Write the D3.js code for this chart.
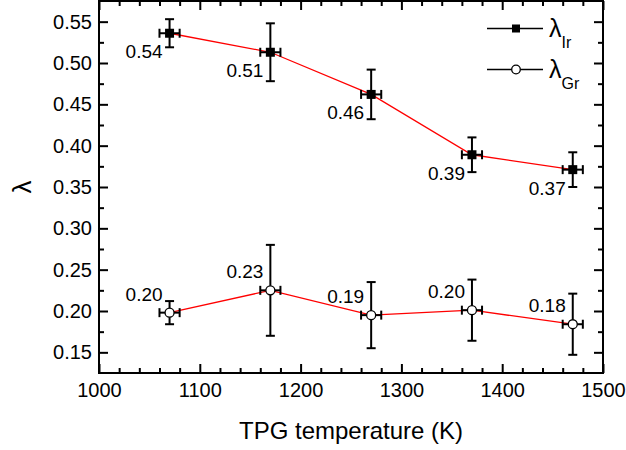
<!DOCTYPE html>
<html><head><meta charset="utf-8">
<script src="https://cdn.jsdelivr.net/npm/d3@7/dist/d3.min.js"></script>
<style>
body{margin:0;background:#fff;}
svg{display:block;font-family:"Liberation Sans",Arial,sans-serif;}
</style></head>
<body>
<svg id="chart" width="626" height="450"></svg>
<script>
const temps = [1070, 1170, 1270, 1370, 1470];
const tempErr = [10, 10, 10, 10, 10];
const lambdaIr = [0.536, 0.513, 0.462, 0.389, 0.371];
const lambdaIrErr = [0.017, 0.035, 0.030, 0.021, 0.021];
const lambdaGr = [0.198, 0.225, 0.195, 0.201, 0.184];
const lambdaGrErr = [0.014, 0.055, 0.040, 0.037, 0.037];
const labelsIr = ["0.54", "0.51", "0.46", "0.39", "0.37"];
const labelsGr = ["0.20", "0.23", "0.19", "0.20", "0.18"];
const xTicks = [1000, 1100, 1200, 1300, 1400, 1500];
const yTicks = [0.15, 0.20, 0.25, 0.30, 0.35, 0.40, 0.45, 0.50, 0.55];
const seriesNames = ["Ir", "Gr"];

const svg = d3.select("#chart");
const L = 99, R = 603, T = 1, B = 373;
const x = d3.scaleLinear().domain([1000, 1500]).range([L, R]);
const y = d3.scaleLinear().domain([0.125, 0.575]).range([B, T]);

const xMinor = d3.range(1020, 1500, 20).filter(v => v % 100 !== 0);
const yMinor = d3.range(0.175, 0.575, 0.05);

function styleAxis(g) {
  g.select(".domain").remove();
  g.selectAll("line").attr("stroke", "#000").attr("stroke-width", 2);
  g.selectAll("text").attr("fill", "#000").attr("font-size", 20)
    .attr("font-family", '"Liberation Sans",Arial,sans-serif');
}

// bottom
svg.append("g").attr("transform", `translate(0,${B})`)
  .call(d3.axisBottom(x).tickValues(xTicks).tickSize(-9).tickSizeOuter(0).tickPadding(10).tickFormat(d3.format("d")))
  .call(styleAxis);
svg.append("g").attr("transform", `translate(0,${B})`)
  .call(d3.axisBottom(x).tickValues(xMinor).tickSize(-5).tickSizeOuter(0).tickFormat(""))
  .call(styleAxis);
// top
svg.append("g").attr("transform", `translate(0,${T})`)
  .call(d3.axisTop(x).tickValues(xTicks).tickSize(-9).tickSizeOuter(0).tickFormat(""))
  .call(styleAxis);
svg.append("g").attr("transform", `translate(0,${T})`)
  .call(d3.axisTop(x).tickValues(xMinor).tickSize(-5).tickSizeOuter(0).tickFormat(""))
  .call(styleAxis);
// left
svg.append("g").attr("transform", `translate(${L},0)`)
  .call(d3.axisLeft(y).tickValues(yTicks).tickSize(-9).tickSizeOuter(0).tickPadding(7).tickFormat(d3.format(".2f")))
  .call(styleAxis);
svg.append("g").attr("transform", `translate(${L},0)`)
  .call(d3.axisLeft(y).tickValues(yMinor).tickSize(-5).tickSizeOuter(0).tickFormat(""))
  .call(styleAxis);
// right
svg.append("g").attr("transform", `translate(${R},0)`)
  .call(d3.axisRight(y).tickValues(yTicks).tickSize(-9).tickSizeOuter(0).tickFormat(""))
  .call(styleAxis);
svg.append("g").attr("transform", `translate(${R},0)`)
  .call(d3.axisRight(y).tickValues(yMinor).tickSize(-5).tickSizeOuter(0).tickFormat(""))
  .call(styleAxis);

// frame
svg.append("rect").attr("x", L).attr("y", T).attr("width", R - L).attr("height", B - T)
  .attr("fill", "none").attr("stroke", "#000").attr("stroke-width", 2);

// axis titles
svg.append("text").attr("x", (L + R) / 2).attr("y", 439).attr("text-anchor", "middle")
  .attr("font-size", 24).attr("fill", "#000").text("TPG temperature (K)");
svg.append("text").attr("transform", "translate(31,187) rotate(-90)").attr("text-anchor", "middle")
  .attr("font-size", 26).attr("fill", "#000").text("λ");

const line = d3.line().x(d => x(d.t)).y(d => y(d.v));

function drawSeries(vals, errs, labels, kind) {
  const data = temps.map((t, i) => ({ t, te: tempErr[i], v: vals[i], ve: errs[i], lab: labels[i] }));
  const g = svg.append("g");
  g.append("path").datum(data).attr("d", line).attr("fill", "none")
    .attr("stroke", "#ff0000").attr("stroke-width", 1.3);
  const eb = g.selectAll(".eb").data(data).enter().append("g").attr("stroke", "#000").attr("stroke-width", 2);
  const c = 4.5;
  eb.append("line").attr("x1", d => x(d.t)).attr("x2", d => x(d.t)).attr("y1", d => y(d.v - d.ve)).attr("y2", d => y(d.v + d.ve));
  eb.append("line").attr("x1", d => x(d.t) - c).attr("x2", d => x(d.t) + c).attr("y1", d => y(d.v - d.ve)).attr("y2", d => y(d.v - d.ve));
  eb.append("line").attr("x1", d => x(d.t) - c).attr("x2", d => x(d.t) + c).attr("y1", d => y(d.v + d.ve)).attr("y2", d => y(d.v + d.ve));
  eb.append("line").attr("x1", d => x(d.t - d.te)).attr("x2", d => x(d.t + d.te)).attr("y1", d => y(d.v)).attr("y2", d => y(d.v));
  eb.append("line").attr("x1", d => x(d.t - d.te)).attr("x2", d => x(d.t - d.te)).attr("y1", d => y(d.v) - c).attr("y2", d => y(d.v) + c);
  eb.append("line").attr("x1", d => x(d.t + d.te)).attr("x2", d => x(d.t + d.te)).attr("y1", d => y(d.v) - c).attr("y2", d => y(d.v) + c);
  if (kind === "square") {
    g.selectAll(".m").data(data).enter().append("rect")
      .attr("x", d => x(d.t) - 4.5).attr("y", d => y(d.v) - 4.5).attr("width", 9).attr("height", 9).attr("fill", "#000");
  } else {
    g.selectAll(".m").data(data).enter().append("circle")
      .attr("cx", d => x(d.t)).attr("cy", d => y(d.v)).attr("r", 4.5)
      .attr("fill", "#fff").attr("stroke", "#000").attr("stroke-width", 1.3);
  }
  g.selectAll(".lab").data(data).enter().append("text")
    .attr("x", d => x(d.t) - 7).attr("y", d => y(d.v) + (kind === "square" ? 25 : -12))
    .attr("text-anchor", "end").attr("font-size", 19).attr("fill", "#000").text(d => d.lab);
}
drawSeries(lambdaIr, lambdaIrErr, labelsIr, "square");
drawSeries(lambdaGr, lambdaGrErr, labelsGr, "circle");

// legend
const leg = svg.append("g");
seriesNames.forEach((name, i) => {
  const ly = 28.5 + i * 41;
  leg.append("line").attr("x1", 487).attr("x2", 543).attr("y1", ly).attr("y2", ly).attr("stroke", "#000").attr("stroke-width", 1.3);
  if (i === 0) {
    leg.append("rect").attr("x", 512).attr("y", ly - 4).attr("width", 8).attr("height", 8).attr("fill", "#000");
  } else {
    leg.append("circle").attr("cx", 516).attr("cy", ly).attr("r", 4.3).attr("fill", "#fff").attr("stroke", "#000").attr("stroke-width", 1.3);
  }
  const t = leg.append("text").attr("x", 549).attr("y", ly + 8).attr("font-size", 25).attr("fill", "#000");
  t.append("tspan").text("λ");
  t.append("tspan").attr("font-size", 16).attr("dy", 11).text(name);
});
</script>
</body></html>
